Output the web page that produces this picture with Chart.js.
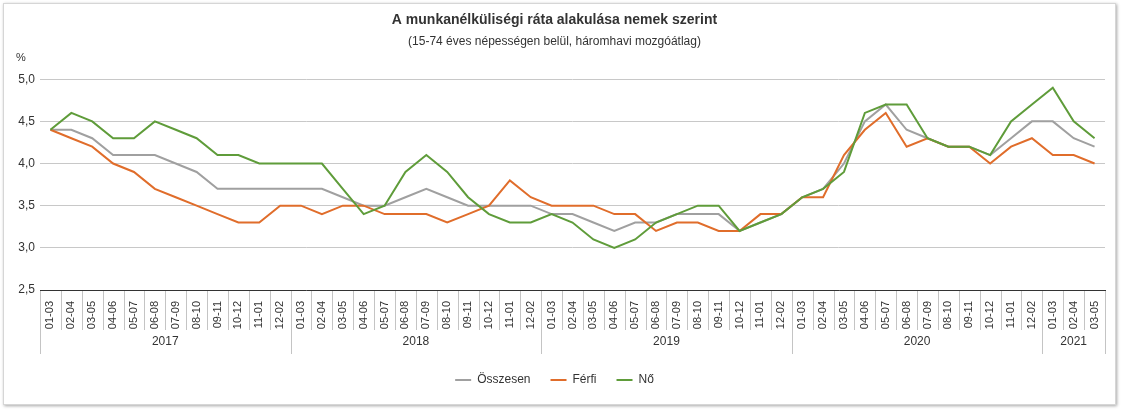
<!DOCTYPE html>
<html>
<head>
    <title>Munkanélküliségi ráta</title>
    <script src="https://cdn.jsdelivr.net/npm/chart.js@4/dist/chart.umd.min.js"></script>
    <style>
        body {
            margin: 0;
            background-color: #fff;
            font-family: "Liberation Sans", Arial, sans-serif;
        }
        .frame {
            position: absolute;
            left: 3px;
            top: 3px;
            width: 1111px;
            height: 400px;
            border: 1px solid #d6d6d6;
            box-shadow: 1px 1px 3px rgba(0, 0, 0, 0.35);
            background: #fff;
        }
    </style>
</head>
<body>
<div class="frame">
    <canvas id="chart" width="1111" height="400"></canvas>
</div>
<script>
    // időszakok (háromhavi mozgóátlag)
    const monthLabels = ['01-03', '02-04', '03-05', '04-06', '05-07', '06-08',
        '07-09', '08-10', '09-11', '10-12', '11-01', '12-02'];
    const years = ['2017', '2018', '2019', '2020', '2021'];
    const yearCounts = [12, 12, 12, 12, 3];

    const osszesen = [
        4.4, 4.4, 4.3, 4.1, 4.1, 4.1, 4.0, 3.9, 3.7, 3.7, 3.7, 3.7,
        3.7, 3.7, 3.6, 3.5, 3.5, 3.6, 3.7, 3.6, 3.5, 3.5, 3.5, 3.5,
        3.4, 3.4, 3.3, 3.2, 3.3, 3.3, 3.4, 3.4, 3.4, 3.2, 3.3, 3.4,
        3.6, 3.7, 4.0, 4.5, 4.7, 4.4, 4.3, 4.2, 4.2, 4.1, 4.3, 4.5,
        4.5, 4.3, 4.2
    ];
    const ferfi = [
        4.4, 4.3, 4.2, 4.0, 3.9, 3.7, 3.6, 3.5, 3.4, 3.3, 3.3, 3.5,
        3.5, 3.4, 3.5, 3.5, 3.4, 3.4, 3.4, 3.3, 3.4, 3.5, 3.8, 3.6,
        3.5, 3.5, 3.5, 3.4, 3.4, 3.2, 3.3, 3.3, 3.2, 3.2, 3.4, 3.4,
        3.6, 3.6, 4.1, 4.4, 4.6, 4.2, 4.3, 4.2, 4.2, 4.0, 4.2, 4.3,
        4.1, 4.1, 4.0
    ];
    const no = [
        4.4, 4.6, 4.5, 4.3, 4.3, 4.5, 4.4, 4.3, 4.1, 4.1, 4.0, 4.0,
        4.0, 4.0, 3.7, 3.4, 3.5, 3.9, 4.1, 3.9, 3.6, 3.4, 3.3, 3.3,
        3.4, 3.3, 3.1, 3.0, 3.1, 3.3, 3.4, 3.5, 3.5, 3.2, 3.3, 3.4,
        3.6, 3.7, 3.9, 4.6, 4.7, 4.7, 4.3, 4.2, 4.2, 4.1, 4.5, 4.7,
        4.9, 4.5, 4.3
    ];

    let labels = [];
    yearCounts.forEach(function (c) {
        labels = labels.concat(monthLabels.slice(0, c));
    });

    const fontFamily = '"Liberation Sans", Arial, sans-serif';

    // elválasztó vonalak és évszámok az x tengely alatt
    const groupAxisPlugin = {
        id: 'groupAxis',
        afterDraw: function (chart) {
            const ctx = chart.ctx;
            const xs = chart.scales.x;
            const bottom = xs.top;
            const half = (xs.getPixelForValue(1) - xs.getPixelForValue(0)) / 2;
            const bounds = [0];
            yearCounts.forEach(function (c, i) { bounds.push(bounds[i] + c); });

            ctx.save();
            ctx.strokeStyle = '#c4c4c4';
            ctx.lineWidth = 1;
            for (let i = 0; i <= labels.length; i++) {
                const x = Math.round(xs.getPixelForValue(i) - half) + 0.5;
                const len = bounds.indexOf(i) >= 0 ? 64 : 40;
                ctx.beginPath();
                ctx.moveTo(x, bottom + 1);
                ctx.lineTo(x, bottom + len);
                ctx.stroke();
            }
            ctx.fillStyle = '#333';
            ctx.font = '12px ' + fontFamily;
            ctx.textAlign = 'center';
            ctx.textBaseline = 'middle';
            years.forEach(function (y, i) {
                const x = (xs.getPixelForValue(bounds[i]) + xs.getPixelForValue(bounds[i + 1] - 1)) / 2;
                ctx.fillText(y, x, bottom + 52);
            });
            ctx.font = '11px ' + fontFamily;
            ctx.textAlign = 'left';
            ctx.fillText('%', 12, 54);
            ctx.restore();
        }
    };

    const chart = new Chart('chart', {
        type: 'line',
        data: {
            labels: labels,
            datasets: [{
                label: 'Összesen',
                data: osszesen,
                borderColor: '#a0a0a0',
                backgroundColor: '#a0a0a0',
                borderWidth: 2,
                pointRadius: 0,
                order: 2
            }, {
                label: 'Férfi',
                data: ferfi,
                borderColor: '#e06d2b',
                backgroundColor: '#e06d2b',
                borderWidth: 2,
                pointRadius: 0,
                order: 1
            }, {
                label: 'Nő',
                data: no,
                borderColor: '#5f9c3a',
                backgroundColor: '#5f9c3a',
                borderWidth: 2,
                pointRadius: 0,
                order: 0
            }]
        },
        options: {
            responsive: false,
            animation: false,
            layout: {
                padding: {left: 0, right: 10, top: 0, bottom: 8}
            },
            scales: {
                x: {
                    offset: true,
                    grid: {display: false},
                    border: {display: true, color: '#333', width: 1},
                    ticks: {
                        autoSkip: false,
                        maxRotation: 90,
                        minRotation: 90,
                        padding: 3,
                        color: '#333',
                        font: {size: 11, family: fontFamily}
                    },
                    afterFit: function (scale) { scale.height = 64; }
                },
                y: {
                    min: 2.5,
                    max: 5.0,
                    grid: {color: '#c8c8c8', drawTicks: false},
                    border: {display: false},
                    ticks: {
                        stepSize: 0.5,
                        padding: 5,
                        color: '#333',
                        font: {size: 12, family: fontFamily},
                        callback: function (v) { return v.toFixed(1).replace('.', ','); }
                    },
                    afterFit: function (scale) { scale.width = 36; }
                }
            },
            plugins: {
                title: {
                    display: true,
                    text: 'A munkanélküliségi ráta alakulása nemek szerint',
                    color: '#333',
                    font: {size: 14, weight: 'bold', family: fontFamily},
                    padding: {top: 8, bottom: 6}
                },
                subtitle: {
                    display: true,
                    text: '(15-74 éves népességen belül, háromhavi mozgóátlag)',
                    color: '#333',
                    font: {size: 12, family: fontFamily},
                    padding: {top: 0, bottom: 30}
                },
                legend: {
                    position: 'bottom',
                    labels: {
                        usePointStyle: true,
                        pointStyle: 'line',
                        pointStyleWidth: 16,
                        padding: 20,
                        color: '#333',
                        font: {size: 12, family: fontFamily},
                        sort: function (a, b) { return a.datasetIndex - b.datasetIndex; }
                    }
                },
                tooltip: {enabled: false}
            }
        },
        plugins: [groupAxisPlugin]
    });
</script>
</body>
</html>
